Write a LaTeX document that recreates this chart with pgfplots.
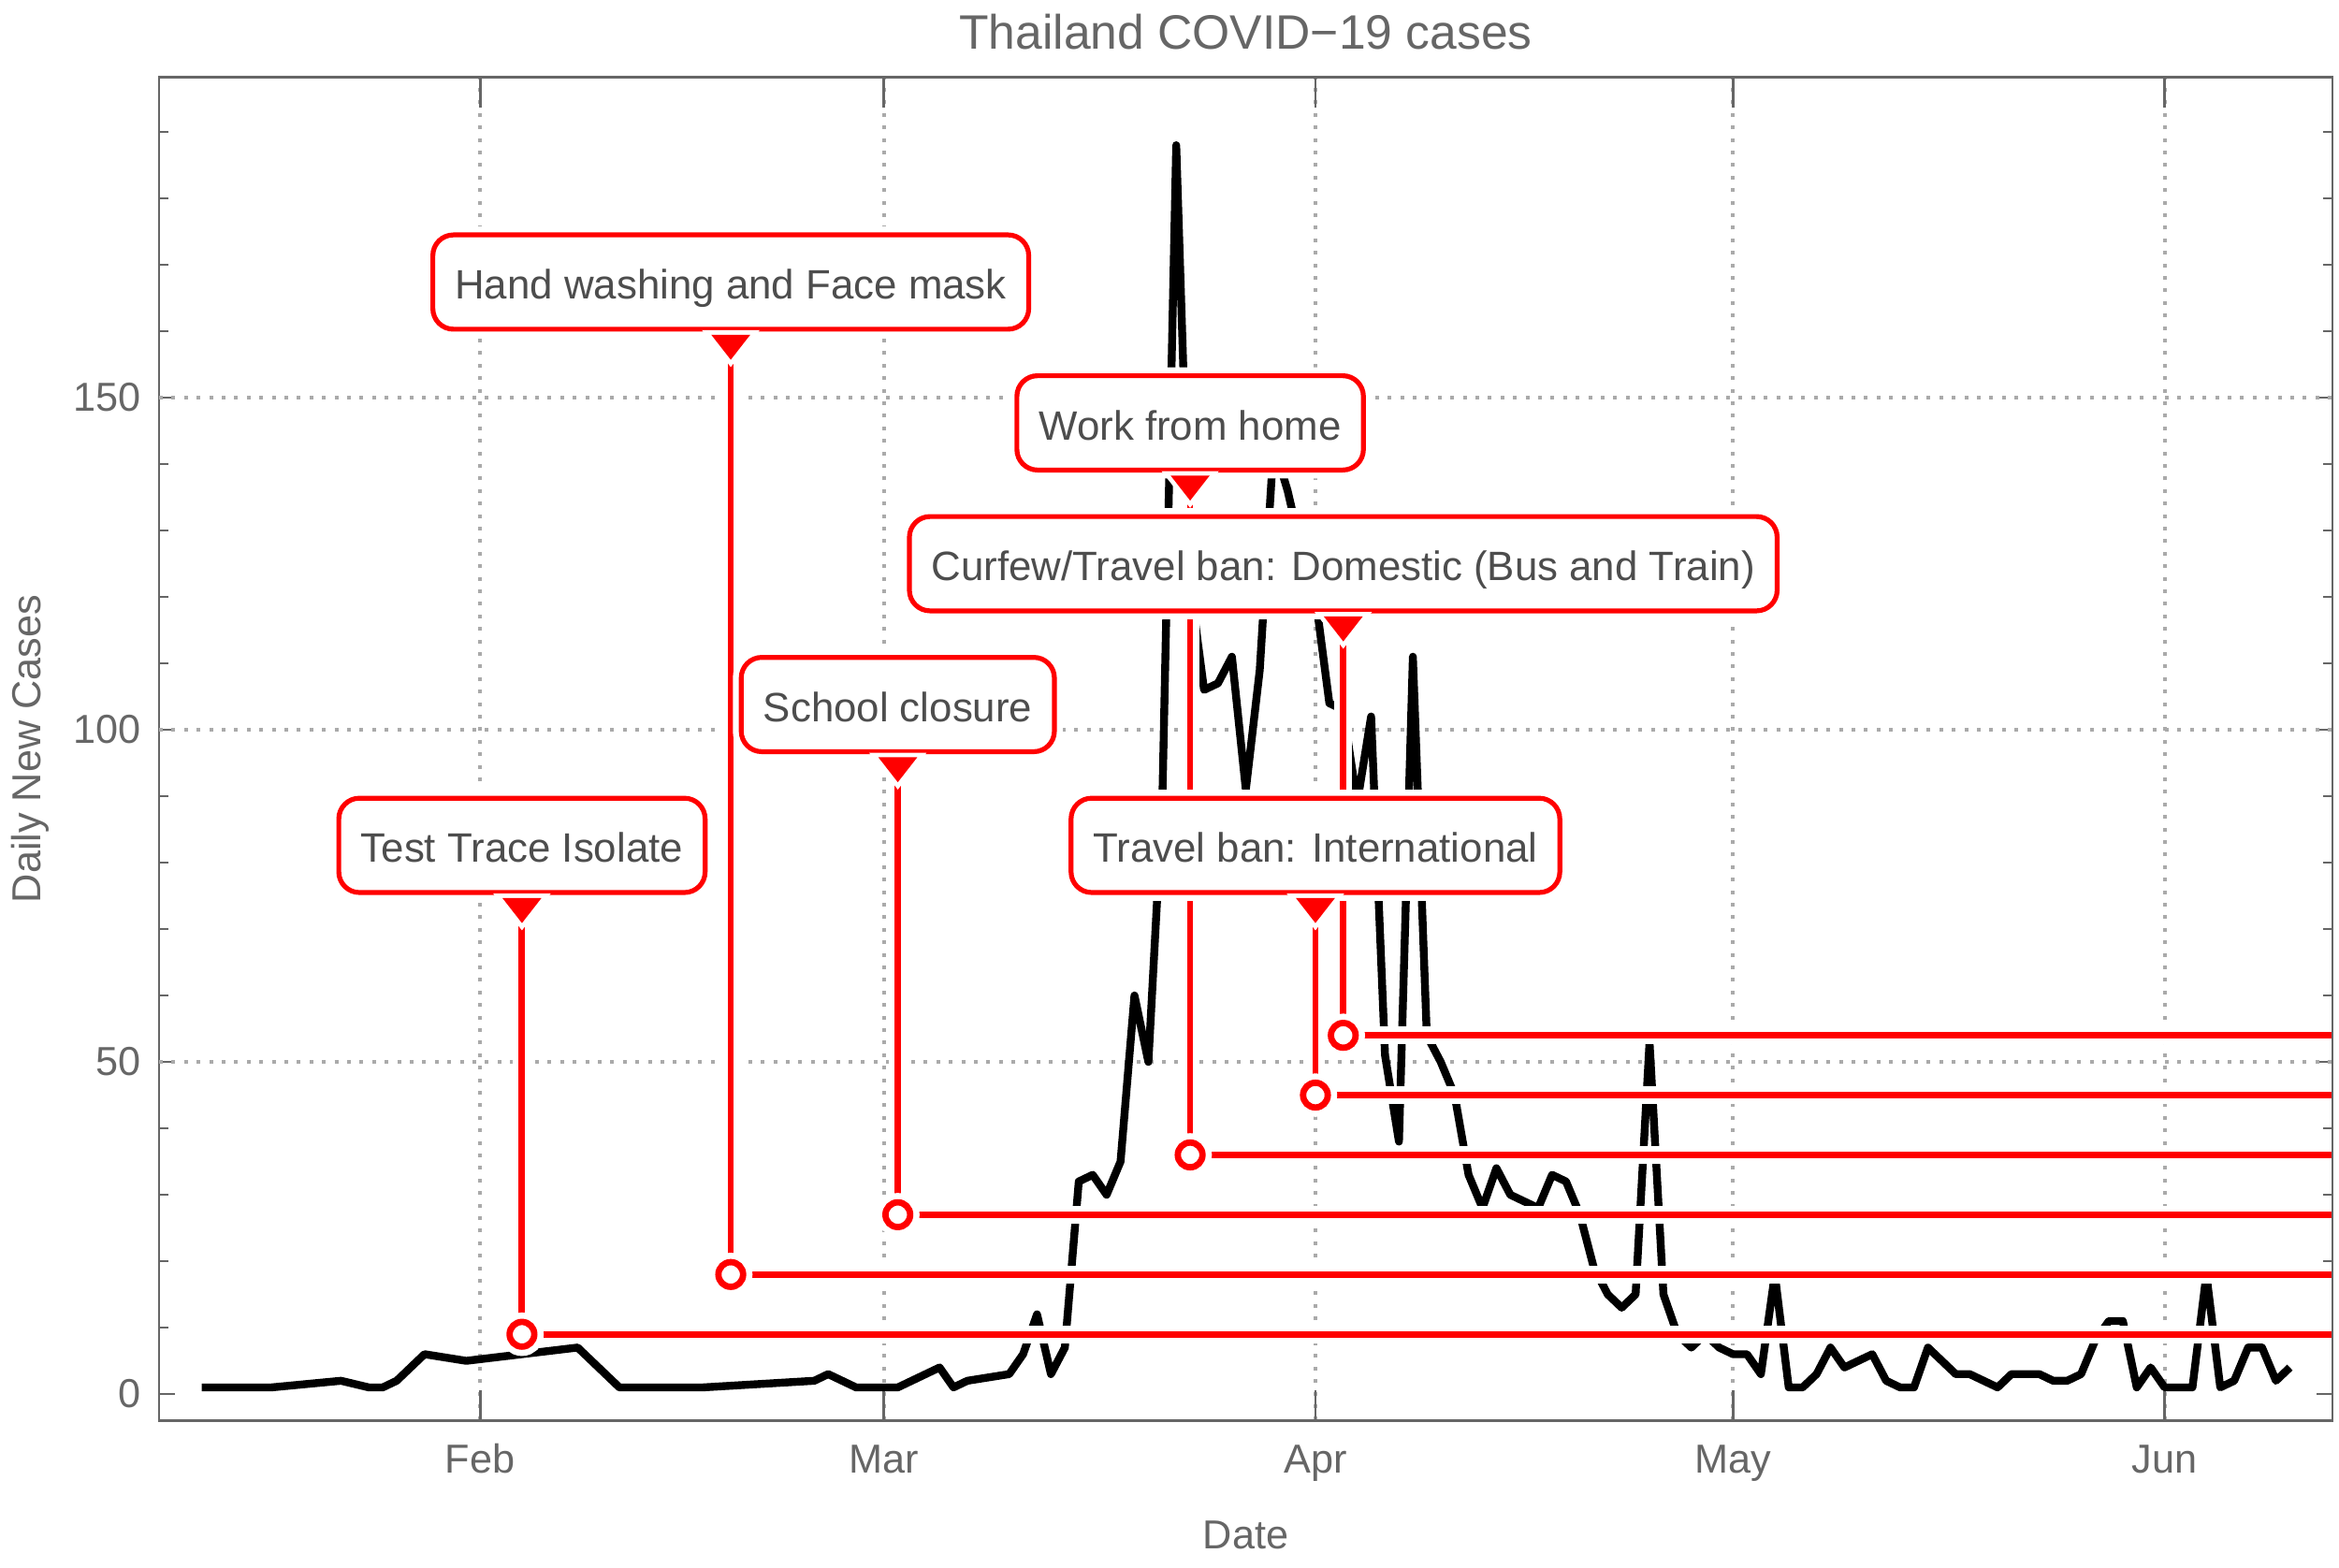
\documentclass[border=0pt]{standalone}
\usepackage{fontspec}
\setmainfont{Liberation Sans}
\usepackage{pgfplots}
\usepackage{pgfplotstable}
\pgfplotsset{compat=1.18}
\definecolor{axgray}{RGB}{102,102,102}
\definecolor{txtgray}{RGB}{77,77,77}
\definecolor{gridgray}{RGB}{170,170,170}
\definecolor{cred}{RGB}{255,0,0}

\pgfdeclareplotmark{dtri}{%
  \pgfpathmoveto{\pgfpoint{-4.6bp}{0bp}}%
  \pgfpathlineto{\pgfpoint{4.6bp}{0bp}}%
  \pgfpathlineto{\pgfpoint{0bp}{-5.9bp}}%
  \pgfpathclose
  \pgfusepathqfillstroke}

% day of year (Jan 1 = 1), daily new cases
\pgfplotstableread{
day cases
12 1
17 1
22 2
24 1
25 1
26 2
28 6
31 5
35 6
39 7
42 1
48 1
56 2
57 3
59 1
62 1
65 4
66 1
67 2
70 3
71 6
72 12
73 3
74 7
75 32
76 33
77 30
78 35
79 60
80 50
81 89
82 188
83 122
84 106
85 107
86 111
87 91
88 109
89 143
90 136
91 127
92 120
93 104
94 103
95 89
96 102
97 51
98 38
99 111
100 54
101 50
102 45
103 33
104 28
105 34
106 30
107 29
108 28
109 33
110 32
111 27
112 19
113 15
114 13
115 15
116 53
117 15
118 9
119 7
120 9
121 7
122 6
123 6
124 3
125 18
126 1
127 1
128 3
129 7
130 4
131 5
132 6
133 2
134 1
135 1
136 7
137 5
138 3
139 3
140 2
141 1
142 3
143 3
144 3
145 2
146 2
147 3
148 8
149 11
150 11
151 1
152 4
153 1
154 1
155 1
156 18
157 1
158 2
159 7
160 7
161 2
162 4
}\cases

% event day, level, top of the pointer
\pgfplotstableread{
day level top
35 9 74.5
50 18 159.3
62 27 95.7
83 36 138.1
92 45 74.5
94 54 116.9
}\events

\tikzset{
  halo/.style={white, line width=4.8bp},
  rline/.style={cred, line width=1.7bp},
  cbox/.style={draw=cred, line width=1.3bp, fill=white, rounded corners=5.5bp,
    text=txtgray, font=\fontsize{11.0}{13}\selectfont, inner xsep=5.9bp, inner ysep=0pt,
    minimum height=25.2bp, text height=9bp, text depth=0bp,
    preaction={draw=white, line width=4.5bp}},
}

\begin{document}
\begin{tikzpicture}
\useasboundingbox (-42.5bp,-39.4bp) rectangle (582.5bp,379.6bp);
\begin{axis}[
  scale only axis,
  width=580.75bp, height=358.9bp,
  xmin=8.93, xmax=165.06, ymin=-3.99, ymax=198.2,
  axis line style={axgray, line width=0.65bp},
  tick style={axgray, line width=0.65bp},
  tick align=inside,
  major tick length=4.3bp,
  minor tick length=2.5bp,
  xtick={32,61,92,122,153},
  xticklabels={Feb,Mar,Apr,May,Jun},
  xtick style={/pgfplots/major tick length=8bp},
  ytick={0,50,100,150},
  minor ytick={10,20,30,40,60,70,80,90,110,120,130,140,160,170,180,190},
  extra y ticks={50,100,150},
  extra y tick labels={},
  extra y tick style={grid=major, major tick length=0pt},
  xmajorgrids,
  grid style={gridgray, line width=1bp, dash pattern=on 1bp off 2.35bp},
  /pgf/number format/assume math mode=true,
  ticklabel style={font=\fontsize{10.85}{13}\selectfont, text=axgray},
  yticklabel style={anchor=east, inner sep=0pt, xshift=-4.6bp},
  xticklabel style={anchor=base, inner sep=0pt, yshift=-14bp},
  every axis title shift=0pt,
  title={Thailand COVID\textminus19 cases},
  title style={at={(axis description cs:0.5,1.0209)}, anchor=base, inner sep=0pt, yshift=0pt,
    font=\fontsize{12.95}{15}\selectfont, text=axgray},
  xlabel={Date},
  xlabel style={at={(axis description cs:0.5,-0.0958)}, anchor=base, inner sep=0pt,
    font=\fontsize{10.85}{13}\selectfont, text=axgray},
  ylabel={Daily New Cases},
  ylabel style={at={(axis description cs:-0.0545,0.5)}, anchor=base, inner sep=0pt,
    font=\fontsize{10.85}{13}\selectfont, text=axgray},
]
\addplot[black, line width=2.1bp, line join=round, mark=none] table[x=day, y=cases] {\cases};

% halos
\addplot[halo, mark=none] coordinates {(165.0,9) (35,9) (35,74.5)};
\addplot[halo, mark=none] coordinates {(165.0,18) (50,18) (50,159.3)};
\addplot[halo, mark=none] coordinates {(165.0,27) (62,27) (62,95.7)};
\addplot[halo, mark=none] coordinates {(165.0,36) (83,36) (83,138.1)};
\addplot[halo, mark=none] coordinates {(165.0,45) (92,45) (92,74.5)};
\addplot[halo, mark=none] coordinates {(165.0,54) (94,54) (94,116.9)};
% red pointer lines
\addplot[rline, mark=none] coordinates {(165.0,9) (35,9) (35,74.5)};
\addplot[rline, mark=none] coordinates {(165.0,18) (50,18) (50,159.3)};
\addplot[rline, mark=none] coordinates {(165.0,27) (62,27) (62,95.7)};
\addplot[rline, mark=none] coordinates {(165.0,36) (83,36) (83,138.1)};
\addplot[rline, mark=none] coordinates {(165.0,45) (92,45) (92,74.5)};
\addplot[rline, mark=none] coordinates {(165.0,54) (94,54) (94,116.9)};

% circles at the event level
\addplot[only marks, mark=*, mark size=3.3bp,
  mark options={draw=white, fill=white, line width=5bp}] table[x=day, y=level] {\events};
\addplot[only marks, mark=*, mark size=3.3bp,
  mark options={draw=cred, fill=white, line width=1.7bp}] table[x=day, y=level] {\events};
% triangles under the labels
\addplot[only marks, mark=dtri,
  mark options={draw=white, fill=white, line width=3bp}] table[x=day, y=top] {\events};
\addplot[only marks, mark=dtri,
  mark options={draw=cred, fill=cred, line width=0.6bp}] table[x=day, y=top] {\events};

% label boxes
\node[cbox] at (axis cs:35,82.6) {Test Trace Isolate};
\node[cbox] at (axis cs:92,82.6) {Travel ban: International};
\node[cbox] at (axis cs:62,103.8) {School closure};
\node[cbox] at (axis cs:94,125.0) {Curfew/Travel ban: Domestic (Bus and Train)};
\node[cbox] at (axis cs:83,146.2) {Work from home};
\node[cbox] at (axis cs:50,167.4) {Hand washing and Face mask};
\end{axis}
\end{tikzpicture}
\end{document}
